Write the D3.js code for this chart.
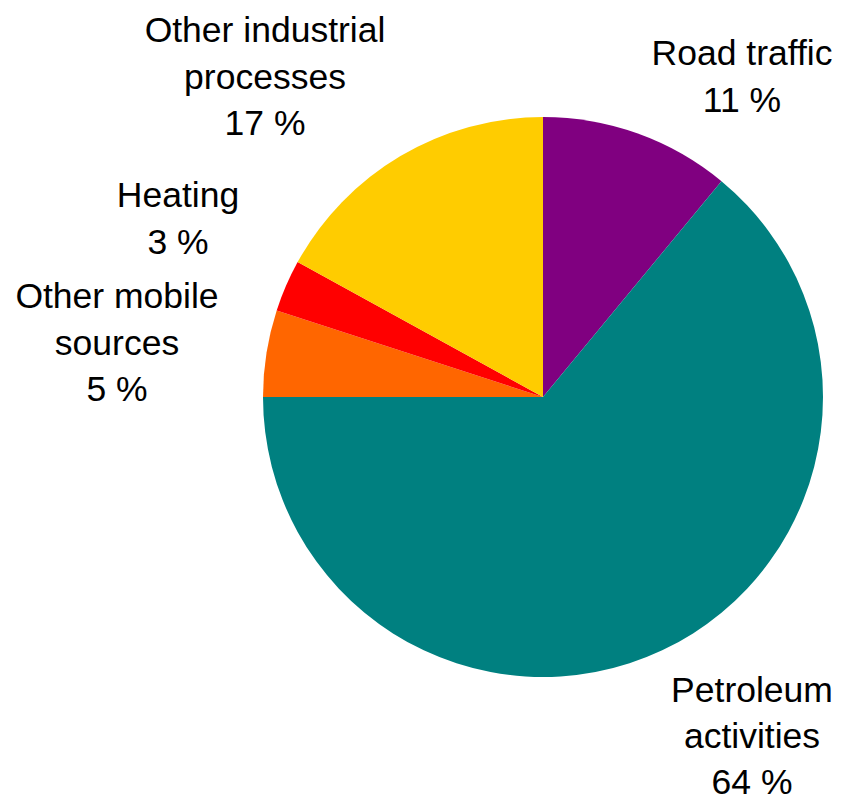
<!DOCTYPE html>
<html>
<head>
<meta charset="utf-8">
<script src="https://cdn.jsdelivr.net/npm/d3@7"></script>
<style>
html,body{margin:0;padding:0;background:#fff;}
svg{display:block;}
</style>
</head>
<body>
<svg id="chart" width="845" height="802"></svg>
<script>
// Data
const categories = ["Road traffic", "Petroleum activities", "Other mobile sources", "Heating", "Other industrial processes"];
const values = [11, 64, 5, 3, 17];
const labelLines = [["Road traffic"], ["Petroleum", "activities"], ["Other mobile", "sources"], ["Heating"], ["Other industrial", "processes"]];
const colors = ["#800080", "#008080", "#FF6600", "#FF0000", "#FFCC00"];

// Layout
const cx = 543, cy = 397, radius = 280;
// label block centers (x) and first baseline (y) — layout only
const labelAnchors = [[742, 65], [752, 702], [117, 308], [178, 207], [265, 42]];
const lineHeights = [46.5, 46, 46.5, 46.5, 46.5];
const fontSize = 35.5;

const svg = d3.select("#chart");
const g = svg.append("g").attr("transform", `translate(${cx},${cy})`);

const pie = d3.pie().sort(null).value(d => d.value);
const arc = d3.arc().innerRadius(0).outerRadius(radius);
const data = categories.map((c, i) => ({name: c, value: values[i], i}));
const arcs = pie(data);

g.selectAll("path").data(arcs).join("path")
  .attr("d", arc)
  .attr("fill", d => colors[d.data.i]);

const labels = svg.append("g")
  .attr("font-family", "'Liberation Sans', Arial, sans-serif")
  .attr("font-size", fontSize)
  .attr("fill", "#000")
  .attr("text-anchor", "middle");

arcs.forEach(d => {
  const i = d.data.i;
  const lines = labelLines[i].concat([values[i] + " %"]);
  const [x, y] = labelAnchors[i];
  const t = labels.append("text").attr("x", x).attr("y", y);
  lines.forEach((ln, k) => {
    t.append("tspan").attr("x", x).attr("dy", k === 0 ? 0 : lineHeights[i]).text(ln);
  });
});
</script>
</body>
</html>
